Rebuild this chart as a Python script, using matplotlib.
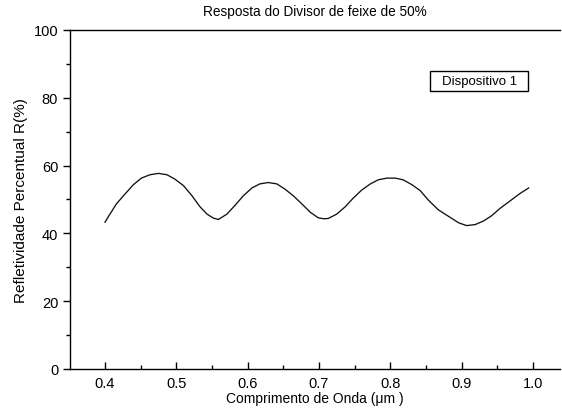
import matplotlib
matplotlib.use("Agg")
import matplotlib.pyplot as plt
from matplotlib.ticker import MultipleLocator
from matplotlib.patches import Rectangle

plt.rcParams['font.family'] = ['Liberation Sans', 'DejaVu Sans']

# Dados
comprimento = [0.400, 0.407, 0.416, 0.428, 0.440, 0.451, 0.463, 0.475, 0.487, 0.498,
               0.510, 0.522, 0.533, 0.543, 0.552, 0.559, 0.571, 0.582, 0.594, 0.606,
               0.617, 0.629, 0.641, 0.652, 0.664, 0.676, 0.688, 0.699, 0.707, 0.713,
               0.725, 0.737, 0.748, 0.760, 0.772, 0.783, 0.795, 0.807, 0.818, 0.830,
               0.842, 0.853, 0.867, 0.884, 0.896, 0.907, 0.919, 0.931, 0.942, 0.954,
               0.968, 0.982, 0.994]
refletividade = [43.3, 45.7, 48.7, 51.6, 54.4, 56.3, 57.3, 57.7, 57.3, 56.0,
                 54.1, 51.1, 47.9, 45.7, 44.5, 44.1, 45.7, 48.2, 51.1, 53.4,
                 54.6, 55.0, 54.6, 53.1, 51.1, 48.7, 46.2, 44.6, 44.3, 44.4,
                 45.7, 47.9, 50.4, 52.8, 54.6, 55.8, 56.3, 56.3, 55.8, 54.4,
                 52.6, 49.9, 47.0, 44.7, 43.1, 42.3, 42.6, 43.7, 45.2, 47.4,
                 49.6, 51.8, 53.4]

fig = plt.figure(figsize=(5.62, 4.10), dpi=100)
ax = fig.add_axes([0.1246, 0.0976, 0.872, 0.8268])

ax.plot(comprimento, refletividade, color='#111111', linewidth=0.95)

ax.set_xlim(0.351, 1.038)
ax.set_ylim(0, 100)
ax.xaxis.set_minor_locator(MultipleLocator(0.05))
ax.yaxis.set_major_locator(MultipleLocator(20))
ax.yaxis.set_minor_locator(MultipleLocator(10))
ax.set_xticks([0.4, 0.5, 0.6, 0.7, 0.8, 0.9, 1.0])
ax.set_xticklabels(['0.4', '0.5', '0.6', '0.7', '0.8', '0.9', '1.0'])

ax.tick_params(axis='x', which='major', direction='in', length=5, width=1, labelsize=10.5, pad=5)
ax.tick_params(axis='x', which='minor', direction='in', length=3, width=1)
ax.tick_params(axis='y', which='major', direction='out', length=5, width=1, labelsize=10.5)
ax.tick_params(axis='y', which='minor', direction='out', length=3, width=1)

ax.spines['right'].set_visible(False)
for s in ['left', 'bottom', 'top']:
    ax.spines[s].set_linewidth(1.0)

ax.set_title('Resposta do Divisor de feixe de 50%', fontsize=9.8, pad=11)
ax.set_xlabel('Comprimento de Onda (\u03bcm )', fontsize=10, labelpad=1)
ax.set_ylabel('Refletividade Percentual R(%)', fontsize=11, labelpad=4)

# Caixa de legenda "Dispositivo 1"
ax.add_patch(Rectangle((0.735, 0.82), 0.2, 0.059, transform=ax.transAxes,
                       facecolor='white', edgecolor='black', linewidth=1))
ax.text(0.835, 0.85, 'Dispositivo 1', transform=ax.transAxes, fontsize=9.5,
        ha='center', va='center')

fig.savefig('out.png', dpi=100)
